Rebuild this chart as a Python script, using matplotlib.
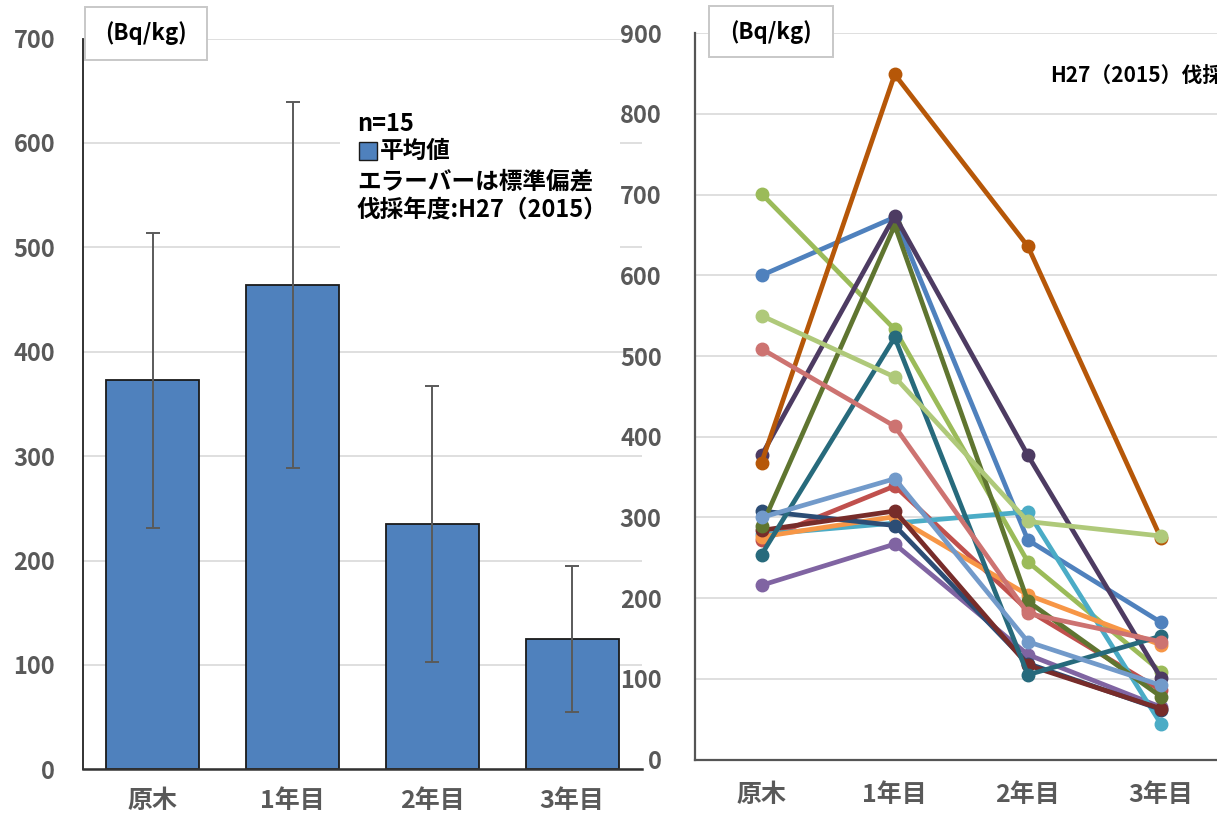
import matplotlib
matplotlib.use("Agg")
import numpy as np
import matplotlib.pyplot as plt
from matplotlib.patches import Rectangle

plt.rcParams['font.family'] = ['Noto Sans CJK JP', 'DejaVu Sans']

stages = ['原木', '1年目', '2年目', '3年目']

# 平均値と標準偏差 (n=15)
mean = [372.6, 463.8, 235.0, 124.6]
sd = [141.4, 175.5, 132.4, 70.0]

# 各試料の濃度 (Bq/kg)、15本分
genboku = [600, 272, 701, 216, 279, 276, 308, 284, 289, 377, 254, 368, 300, 509, 550]
year1 = [672, 339, 533, 267, 293, 301, 290, 308, 662, 674, 523, 849, 348, 413, 474]
year2 = [272, 185, 245, 130, 307, 204, 119, 117, 196, 377, 105, 636, 146, 181, 295]
year3 = [170, 86, 109, 65, 44, 142, 62, 63, 78, 101, 153, 274, 92, 146, 277]

colors = ['#4F81BD', '#C0504D', '#9BBB59', '#8064A2', '#4BACC6', '#F79646',
          '#2C4D75', '#772C2A', '#5F7530', '#4D3B62', '#276A7C', '#B65708',
          '#729ACA', '#CD7371', '#AFC97A']

GRID = '#d9d9d9'
LABEL = '#595959'

fig = plt.figure(figsize=(12.17, 8.17), dpi=100)
ax1 = fig.add_axes([0.0682, 0.0583, 0.4593, 0.8945])
ax2 = fig.add_axes([0.5711, 0.0703, 0.4376, 0.889])

# ---- left: mean with error bars
x = np.arange(len(stages))
ax1.bar(x, mean, width=0.665, color='#4F81BD', edgecolor='#1a1a1a', linewidth=1.3, zorder=2)
ax1.errorbar(x, mean, yerr=sd, fmt='none', ecolor='#5a5a5a', elinewidth=1.4,
             capsize=5, capthick=1.4, zorder=3)
ax1.set_xlim(-0.5, 3.5)
ax1.set_ylim(0, 700)
ax1.set_yticks(range(0, 701, 100))
ax1.set_xticks(x)
ax1.set_xticklabels(stages)
ax1.grid(axis='y', color=GRID, lw=1.2, zorder=0)
ax1.set_axisbelow(True)
for s in ['top', 'right']:
    ax1.spines[s].set_visible(False)
ax1.spines['left'].set_color('#222222')
ax1.spines['left'].set_linewidth(1.3)
ax1.spines['bottom'].set_color('#333333')
ax1.spines['bottom'].set_linewidth(1.8)
ax1.tick_params(axis='y', length=0, pad=20, labelsize=17, labelcolor=LABEL)
ax1.tick_params(axis='x', length=0, pad=14, labelsize=18, labelcolor=LABEL)
for t in ax1.get_yticklabels() + ax1.get_xticklabels():
    t.set_fontweight('bold')

# note block
ax1.add_patch(Rectangle((0.46, 0.697), 0.50, 0.226, transform=ax1.transAxes,
                        facecolor='white', edgecolor='none', zorder=4))
ax1.text(0.490, 0.883, 'n=15', transform=ax1.transAxes, ha='left', va='center',
         fontsize=17, fontweight='bold', zorder=5)
ax1.add_patch(Rectangle((0.494, 0.834), 0.032, 0.0246, transform=ax1.transAxes,
                        facecolor='#4F81BD', edgecolor='#1a1a1a', lw=1.0, zorder=5))
ax1.text(0.531, 0.846, '平均値', transform=ax1.transAxes, ha='left', va='center',
         fontsize=17, fontweight='bold', zorder=5)
ax1.text(0.490, 0.805, 'エラーバーは標準偏差', transform=ax1.transAxes, ha='left', va='center',
         fontsize=17, fontweight='bold', zorder=5)
ax1.text(0.490, 0.765, '伐採年度:H27（2015）', transform=ax1.transAxes, ha='left', va='center',
         fontsize=17, fontweight='bold', zorder=5)

# ---- right: individual logs
for i in range(len(genboku)):
    vals = [genboku[i], year1[i], year2[i], year3[i]]
    ax2.plot(x, vals, color=colors[i], lw=3.4, marker='o', markersize=9,
             solid_capstyle='round', zorder=2 + i * 0.01)
ax2.set_xlim(-0.5, 3.5)
ax2.set_ylim(0, 900)
ax2.set_yticks(range(0, 901, 100))
ax2.set_xticks(x)
ax2.set_xticklabels(stages)
ax2.grid(axis='y', color=GRID, lw=1.2, zorder=0)
ax2.set_axisbelow(True)
for s in ['top', 'right']:
    ax2.spines[s].set_visible(False)
for s in ['left', 'bottom']:
    ax2.spines[s].set_color('#555555')
    ax2.spines[s].set_linewidth(1.6)
ax2.tick_params(axis='y', length=0, pad=24, labelsize=17, labelcolor=LABEL)
ax2.tick_params(axis='x', length=0, pad=17, labelsize=18, labelcolor=LABEL)
for t in ax2.get_yticklabels() + ax2.get_xticklabels():
    t.set_fontweight('bold')

# unit boxes
for (bx, by, bw, bh) in [(0.070, 0.9266, 0.1002, 0.065), (0.5826, 0.930, 0.1019, 0.0624)]:
    fig.patches.append(Rectangle((bx, by), bw, bh, transform=fig.transFigure,
                                 facecolor='white', edgecolor='#c8c8c8', lw=1.4, zorder=10))
    fig.text(bx + bw / 2, by + bh / 2, '(Bq/kg)', ha='center', va='center',
             fontsize=16, fontweight='bold', zorder=11)

fig.text(0.8628, 0.907, 'H27（2015）伐採', ha='left', va='center',
         fontsize=15, fontweight='bold')

fig.savefig('out.png', dpi=100)
